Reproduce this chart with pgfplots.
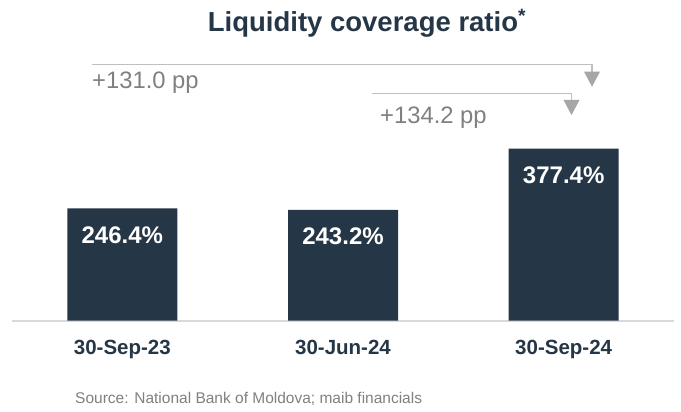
\documentclass[border=0pt]{standalone}
\usepackage{pgfplots}
\pgfplotsset{compat=1.18}
\usepackage{fontspec}
\setmainfont{Liberation Sans}
\definecolor{navy}{RGB}{37,54,71}
\definecolor{anngray}{RGB}{128,128,128}
\definecolor{linegray}{RGB}{191,191,191}
\definecolor{trigray}{RGB}{166,166,166}
\definecolor{basegray}{RGB}{217,217,217}
\begin{document}
\begin{tikzpicture}[x=1pt,y=1pt]
\useasboundingbox (0,0) rectangle (681,412);
\begin{axis}[
  at={(12pt,91.3pt)}, anchor=south west,
  scale only axis, width=662pt, height=320.7pt,
  xmin=-0.5, xmax=2.5, ymin=0, ymax=703.3,
  axis x line*=bottom, axis y line=none,
  x axis line style={basegray, line width=2pt, -},
  ybar, bar width=110pt,
  xtick={0,1,2}, xticklabels={30-Sep-23,30-Jun-24,30-Sep-24},
  major tick length=0pt, ytick=\empty,
  xticklabel style={anchor=base, yshift=-34.1pt, inner sep=0pt,
    font=\bfseries\fontsize{20.5}{24}\selectfont, text=navy},
  /pgf/number format/assume math mode=true,
  nodes near coords={\pgfmathprintnumber[fixed,fixed zerofill,precision=1]{\pgfplotspointmeta}\%},
  every node near coord/.append style={anchor=base, yshift=-35.2pt, inner sep=0pt,
    font=\bfseries\fontsize{24}{28}\selectfont, text=white},
  clip=false,
]
\addplot[fill=navy, draw=none] coordinates {(0,246.4) (1,243.2) (2,377.4)};
\end{axis}
\node[anchor=base, inner sep=0pt, font=\bfseries\fontsize{27.5}{30}\selectfont, text=navy] at (367,380) {Liquidity coverage ratio\textsuperscript{*}};
\draw[linegray, line width=1.3pt] (91.5,347.5) -- (592,347.5) -- (592,340.3);
\fill[trigray] (584,340.3) -- (600,340.3) -- (592,325.3) -- cycle;
\draw[linegray, line width=1.3pt] (372,318.5) -- (571.5,318.5) -- (571.5,312);
\fill[trigray] (563.5,312) -- (579.5,312) -- (571.5,297) -- cycle;
\node[anchor=base west, inner sep=0pt, font=\fontsize{23.8}{27}\selectfont, text=anngray] at (92,323.8) {+131.0 pp};
\node[anchor=base west, inner sep=0pt, font=\fontsize{23.8}{27}\selectfont, text=anngray] at (380,288.8) {+134.2 pp};
\node[anchor=base west, inner sep=0pt, font=\fontsize{15.5}{18}\selectfont, text=anngray] at (75,8.8) {Source: National Bank of Moldova; maib financials};
\end{tikzpicture}
\end{document}
